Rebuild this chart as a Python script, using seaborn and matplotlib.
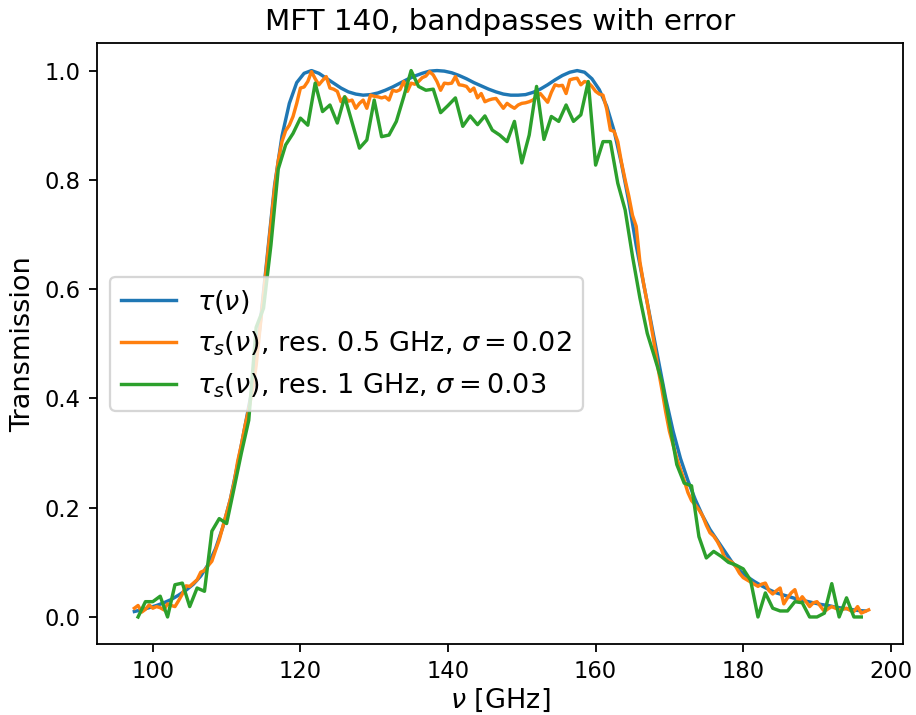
import numpy as np
import seaborn as sns
import matplotlib
matplotlib.use("Agg")
import matplotlib.pyplot as plt

## frequency grids [GHz]
nu_model = np.arange(97.5, 197.0, 1.0)      # 97.5 .. 196.5
nu_half = np.arange(97.5, 197.25, 0.5)      # 97.5 .. 197.0
nu_one = np.arange(98.0, 197.0, 1.0)        # 98 .. 196

## tau(nu), model bandpass
tau = [
    0.010, 0.013, 0.017, 0.021, 0.026, 0.032, 0.040, 0.049, 0.060, 0.075,
    0.096, 0.125, 0.165, 0.215, 0.280, 0.350, 0.420, 0.530, 0.660, 0.790,
    0.880, 0.940, 0.978, 0.995, 1.000, 0.995, 0.986, 0.977, 0.968, 0.961,
    0.957, 0.955, 0.956, 0.959, 0.964, 0.970, 0.977, 0.984, 0.990, 0.995,
    0.999, 1.000, 0.999, 0.996, 0.991, 0.985, 0.978, 0.972, 0.966, 0.961,
    0.957, 0.955, 0.955, 0.956, 0.960, 0.966, 0.974, 0.983, 0.991, 0.997,
    1.000, 0.997, 0.985, 0.965, 0.935, 0.890, 0.830, 0.760, 0.680, 0.610,
    0.540, 0.470, 0.400, 0.340, 0.290, 0.250, 0.215, 0.185, 0.160, 0.140,
    0.120, 0.100, 0.085, 0.074, 0.065, 0.057, 0.050, 0.044, 0.040, 0.036,
    0.032, 0.029, 0.026, 0.023, 0.021, 0.018, 0.016, 0.014, 0.012, 0.011,
]

## tau_s(nu), 0.5 GHz resolution, sigma = 0.02
tau_half = [
    0.016, 0.021, 0.009, 0.014, 0.022, 0.016, 0.019, 0.017, 0.013, 0.024,
    0.021, 0.019, 0.030, 0.042, 0.057, 0.056, 0.062, 0.068, 0.082, 0.085,
    0.094, 0.102, 0.122, 0.141, 0.166, 0.190, 0.215, 0.245, 0.285, 0.315,
    0.350, 0.380, 0.415, 0.460, 0.525, 0.590, 0.655, 0.720, 0.785, 0.835,
    0.870, 0.890, 0.900, 0.916, 0.940, 0.968, 0.970, 0.980, 0.998, 0.985,
    0.974, 0.982, 0.989, 0.968, 0.966, 0.962, 0.943, 0.952, 0.944, 0.946,
    0.931, 0.940, 0.946, 0.931, 0.955, 0.953, 0.952, 0.950, 0.952, 0.946,
    0.964, 0.962, 0.965, 0.980, 0.962, 0.977, 0.975, 0.980, 0.987, 0.990,
    0.998, 0.992, 0.980, 0.964, 0.977, 0.976, 0.977, 0.989, 0.974, 0.973,
    0.971, 0.962, 0.968, 0.950, 0.958, 0.943, 0.946, 0.948, 0.949, 0.940,
    0.931, 0.940, 0.935, 0.931, 0.937, 0.940, 0.941, 0.943, 0.946, 0.952,
    0.958, 0.950, 0.942, 0.960, 0.974, 0.972, 0.973, 0.958, 0.983, 0.985,
    0.986, 0.974, 0.980, 0.978, 0.971, 0.962, 0.957, 0.955, 0.930, 0.891,
    0.889, 0.870, 0.832, 0.800, 0.770, 0.735, 0.715, 0.650, 0.610, 0.575,
    0.535, 0.495, 0.452, 0.415, 0.375, 0.340, 0.315, 0.290, 0.270, 0.250,
    0.228, 0.213, 0.205, 0.196, 0.185, 0.168, 0.154, 0.148, 0.138, 0.125,
    0.108, 0.104, 0.100, 0.092, 0.080, 0.072, 0.068, 0.064, 0.060, 0.056,
    0.060, 0.062, 0.048, 0.042, 0.048, 0.053, 0.024, 0.035, 0.044, 0.050,
    0.028, 0.037, 0.028, 0.019, 0.026, 0.028, 0.019, 0.010, 0.015, 0.019,
    0.016, 0.013, 0.014, 0.016, 0.012, 0.010, 0.019, 0.007, 0.010, 0.013,
]

## tau_s(nu), 1 GHz resolution, sigma = 0.03
tau_one = [
    0.000, 0.028, 0.028, 0.038, 0.000, 0.059, 0.062, 0.019, 0.053, 0.047,
    0.157, 0.180, 0.171, 0.235, 0.300, 0.360, 0.530, 0.565, 0.680, 0.820,
    0.864, 0.885, 0.913, 0.900, 0.977, 0.925, 0.937, 0.904, 0.952, 0.905,
    0.858, 0.873, 0.946, 0.879, 0.882, 0.907, 0.952, 1.000, 0.971, 0.964,
    0.966, 0.923, 0.936, 0.950, 0.898, 0.917, 0.901, 0.917, 0.891, 0.882,
    0.870, 0.907, 0.831, 0.882, 0.971, 0.874, 0.916, 0.907, 0.937, 0.907,
    0.919, 0.980, 0.827, 0.870, 0.870, 0.794, 0.745, 0.660, 0.584, 0.519,
    0.475, 0.430, 0.355, 0.279, 0.245, 0.240, 0.147, 0.108, 0.120, 0.111,
    0.100, 0.095, 0.088, 0.067, 0.000, 0.044, 0.016, 0.011, 0.011, 0.028,
    0.026, 0.000, 0.000, 0.007, 0.061, 0.000, 0.035, 0.000, 0.000,
]

DPI = 163
fig = plt.figure(figsize=(916 / DPI, 715 / DPI), dpi=DPI)
ax = fig.add_axes([0.1056, 0.0989, 0.8806, 0.8406])

sns.lineplot(x=nu_model, y=tau, color="tab:blue", lw=1.5,
             label=r"$\tau(\nu)$", ax=ax)
sns.lineplot(x=nu_half, y=tau_half, color="tab:orange", lw=1.5,
             label=r"$\tau_s(\nu)$, res. 0.5 GHz, $\sigma = 0.02$", ax=ax)
sns.lineplot(x=nu_one, y=tau_one, color="tab:green", lw=1.5,
             label=r"$\tau_s(\nu)$, res. 1 GHz, $\sigma = 0.03$", ax=ax)

ax.set_xlim(92.4, 201.7)
ax.set_ylim(-0.05, 1.05)
ax.tick_params(labelsize=10)
ax.set_title("MFT 140, bandpasses with error", fontsize=13)
ax.set_xlabel(r"$\nu$ [GHz]", fontsize=12, labelpad=1.5)
ax.set_ylabel("Transmission", fontsize=12)
ax.legend(loc="center left", fontsize=12)

fig.savefig("out.png", dpi=DPI)
